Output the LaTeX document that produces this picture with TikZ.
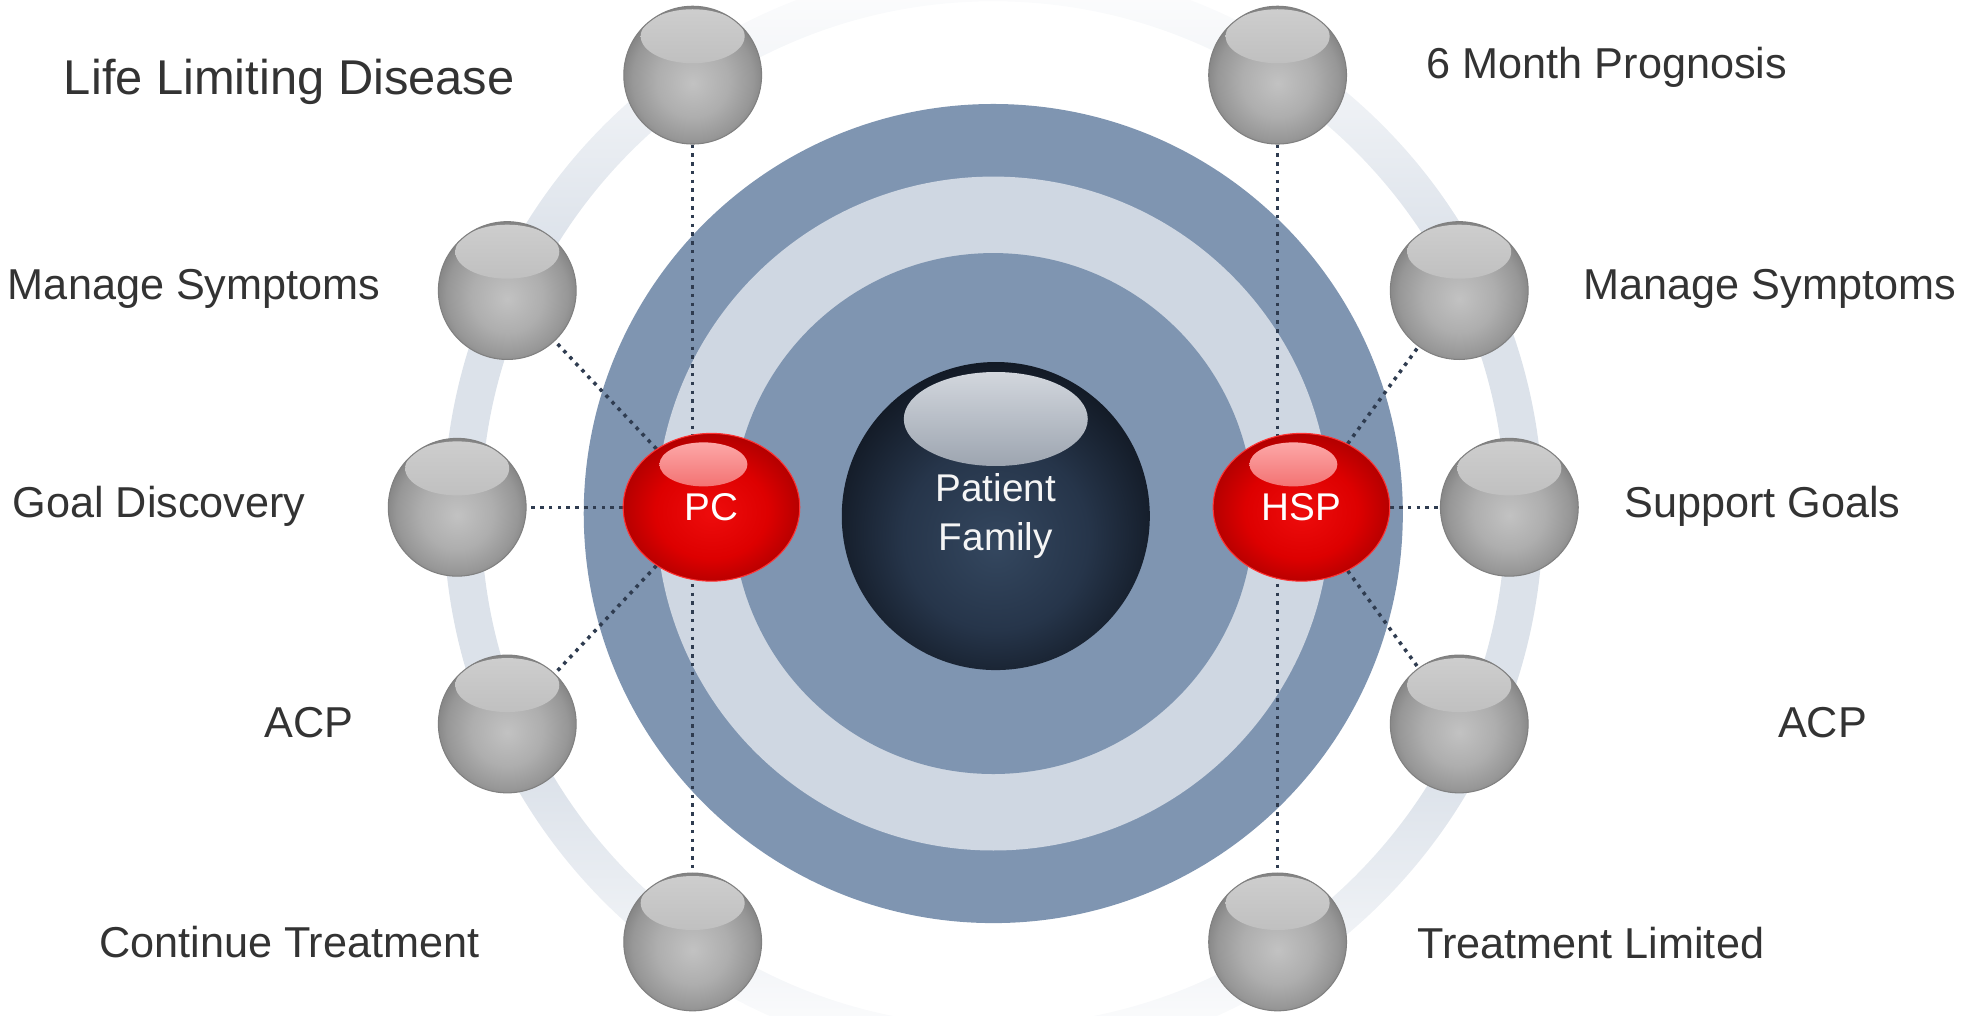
\documentclass[tikz,border=0pt]{standalone}
\usepackage{fontspec}
\setmainfont{Liberation Sans}
\usetikzlibrary{shapes.geometric}

\definecolor{ringdark}{HTML}{7F95B1}
\definecolor{ringlight}{HTML}{CFD7E2}
\definecolor{ringpale}{HTML}{DCE2EA}
\definecolor{linkcol}{HTML}{2F3C50}
\definecolor{labelgray}{HTML}{333333}
\definecolor{sphlight}{HTML}{C2C2C2}
\definecolor{sphmid}{HTML}{AEAEAE}
\definecolor{sphedge}{HTML}{979797}
\definecolor{sphrim}{HTML}{808080}
\definecolor{redlight}{HTML}{EE0C0C}
\definecolor{redmid}{HTML}{DD0000}
\definecolor{reddark}{HTML}{B20000}
\definecolor{navylight}{HTML}{34475F}
\definecolor{navymid}{HTML}{26354A}
\definecolor{navydark}{HTML}{111823}
\definecolor{navyglow}{HTML}{D8DCE2}

% shadings
\pgfdeclareradialshading{graysph}{\pgfpoint{0bp}{-3bp}}{color(0bp)=(sphlight); color(13bp)=(sphmid); color(22bp)=(sphedge); color(27bp)=(sphrim); color(50bp)=(sphrim)}
\pgfdeclareradialshading{redsph}{\pgfpoint{0bp}{-2bp}}{color(0bp)=(redlight); color(16bp)=(redmid); color(26bp)=(reddark); color(50bp)=(reddark)}
\pgfdeclareradialshading{navysph}{\pgfpoint{0bp}{-5bp}}{color(0bp)=(navylight); color(15bp)=(navymid); color(28bp)=(navydark); color(50bp)=(navydark)}
\pgfdeclareverticalshading{ringfade}{100bp}{color(0bp)=(white); color(25bp)=(white); color(31bp)=(ringpale!45); color(38bp)=(ringpale); color(62bp)=(ringpale); color(69bp)=(ringpale!45); color(75bp)=(white); color(100bp)=(white)}

\pgfdeclarelayer{rings}
\pgfdeclarelayer{links}
\pgfsetlayers{rings,links,main}

\tikzset{
  sph/.style={circle, minimum size=1.378cm, inner sep=0pt, draw=sphrim, line width=0.3pt,
    shade, shading=graysph,
    path picture={\shade[top color=sphlight!80!white, bottom color=sphmid!90!sphedge] ([yshift=-0.30cm]path picture bounding box.north) ellipse (0.52cm and 0.27cm);}},
  role/.style={ellipse, minimum width=1.766cm, minimum height=1.478cm, inner sep=0pt, draw=red!80!white, line width=0.3pt,
    shade, shading=redsph, text=white, font=\fontsize{11}{13}\selectfont,
    path picture={\shade[top color=red!30!white, bottom color=redmid] ([xshift=-0.08cm, yshift=-0.31cm]path picture bounding box.north) ellipse (0.44cm and 0.22cm);}},
  core/.style={circle, minimum size=3.081cm, inner sep=0pt, shade, shading=navysph,
    text=white!92!gray, align=center, font=\fontsize{11}{14.2}\selectfont,
    path picture={\shade[top color=navyglow, bottom color=navymid!80!navylight] ([yshift=-0.57cm]path picture bounding box.north) ellipse (0.92cm and 0.47cm);}},
  link/.style={linkcol, line width=1pt, dash pattern=on 1pt off 1.5pt},
  lbl/.style={inner sep=0pt, text=labelgray, font=\fontsize{12.3}{15}\selectfont},
  biglbl/.style={lbl, font=\fontsize{13.9}{16}\selectfont},
}

\begin{document}
\begin{tikzpicture}[x=0.012526cm, y=-0.012526cm]
  \useasboundingbox (0,0) rectangle (1568,811);
  \coordinate (c) at (793,410);

  %% --- rings ---
  \begin{pgfonlayer}{rings}
    \shade[shading=ringfade, even odd rule] (c) circle[radius=5.499cm] (c) circle[radius=5.123cm];
    \fill[ringdark] (c) circle[radius=4.096cm];
    \fill[ringlight] (c) circle[radius=3.370cm];
    \fill[ringdark] (c) circle[radius=2.605cm];
  \end{pgfonlayer}

  %% --- spheres on the outer ring ---
  \foreach \nm/\x/\y in {lld/553/60, msl/405/232, gd/365/405, acpl/405/578, ct/553/752,
                         smp/1020/60, msr/1165/232, sg/1205/405, acpr/1165/578, tl/1020/752}
    \node[sph] (\nm) at (\x,\y) {};

  % PC, HSP and the centre
  \node[role] (pc) at (568,405) {PC};
  \node[role] (hsp) at (1039,405) {HSP};
  \node[core] (pf) at (795,412) {Patient\\Family};

  %% --- dotted links ---
  \begin{pgfonlayer}{links}
    \draw[link] (lld) -- (ct);
    \draw[link] (smp) -- (tl);
    \foreach \s in {msl,gd,acpl} \draw[link] (pc) -- (\s);
    \foreach \s in {msr,sg,acpr} \draw[link] (hsp) -- (\s);
  \end{pgfonlayer}

  %% --- labels ---
  \node[biglbl] (t-lld) at (231,65) {Life Limiting Disease};
  \node[lbl] (t-msl) at (155,231) {Manage Symptoms};
  \node[lbl] (t-gd) at (127,404) {Goal Discovery};
  \node[lbl] (t-acpl) at (247,577) {ACP};
  \node[lbl] (t-ct) at (231,752) {Continue Treatment};

  \node[lbl] (t-smp) at (1283,54) {6 Month Prognosis};
  \node[lbl] (t-msr) at (1413,231) {Manage Symptoms};
  \node[lbl] (t-sg) at (1407,404) {Support Goals};
  \node[lbl] (t-acpr) at (1455,577) {ACP};
  \node[lbl] (t-tl) at (1270,753) {Treatment Limited};
\end{tikzpicture}
\end{document}
